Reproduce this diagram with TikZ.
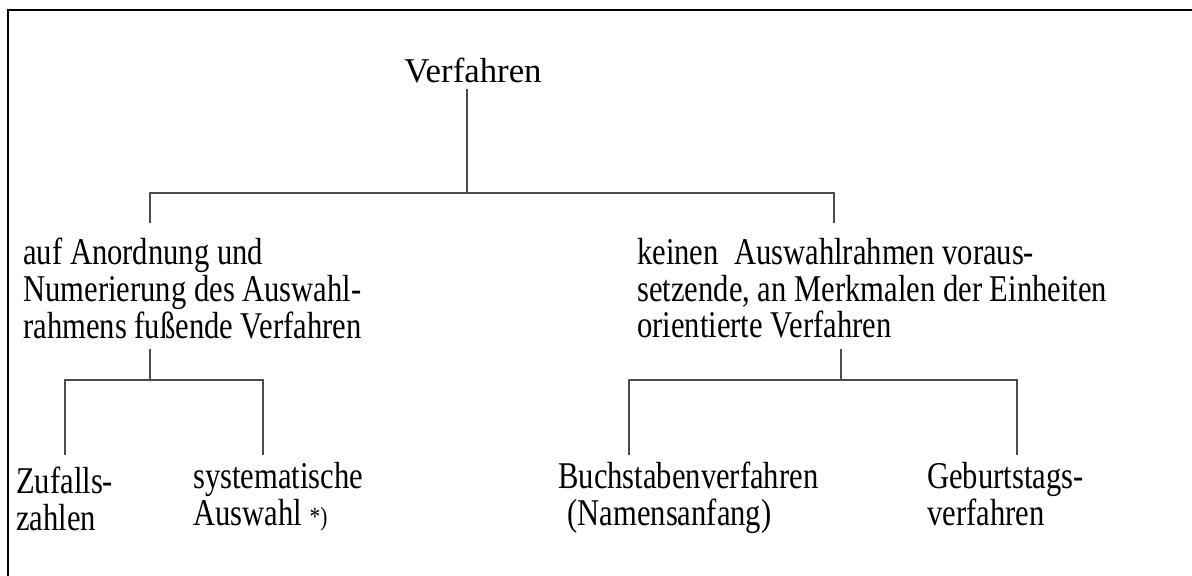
\documentclass[tikz,border=0pt]{standalone}
\usepackage{fontspec}
\setmainfont{Liberation Serif}
\usepackage{tikz}
\usetikzlibrary{
    positioning,
    calc
}
\tikzset{
  txt/.style   = {inner sep=0pt, align=left, anchor=north west,
                  xscale=0.81, transform shape,
                  font=\fontsize{21.5pt}{20.8pt}\selectfont},
  conn/.style  = {draw=black!70, line width=0.6pt},
  frame/.style = {draw=black, line width=1.7pt}
}
\newcommand{\starnote}{{\fontsize{15pt}{15pt}\selectfont *)}}

\begin{document}
\begin{tikzpicture}[
    head/.style={inner sep=0pt, anchor=base,
                 font=\fontsize{19.8pt}{23pt}\selectfont}
  ]
    \useasboundingbox (0,0) rectangle (23.84,-11.52);
    \draw[frame] (0.16,-11.52) -- (0.16,-0.20) -- (23.84,-0.20);

    \node[head] (verf)   at (9.46,-1.66) {Verfahren};
    \node[txt]  (links)  at (0.46,-4.76) {auf Anordnung und\\Numerierung des Auswahl-\\rahmens fußende Verfahren};
    \node[txt]  (rechts) at (12.74,-4.76) {keinen\ \ Auswahlrahmen voraus-\\setzende, an Merkmalen der Einheiten\\orientierte Verfahren};
    \node[txt]  (zuf)    at (0.32,-9.34) {Zufalls-\\zahlen};
    \node[txt]  (sys)    at (3.86,-9.24) {systematische\\Auswahl \starnote};
    \node[txt]  (buch)   at (11.16,-9.24) {Buchstabenverfahren\\\hspace*{0.3em}(Namensanfang)};
    \node[txt]  (geb)    at (18.54,-9.24) {Geburtstags-\\verfahren};

    % bars of the tree
    \coordinate (j1)  at (9.34,-3.86);
    \coordinate (j1l) at (3.00,-3.86);
    \coordinate (j1r) at (16.68,-3.86);
    \coordinate (j2)  at (3.00,-7.60);
    \coordinate (j2l) at (1.30,-7.60);
    \coordinate (j2r) at (5.26,-7.60);
    \coordinate (j3)  at (16.82,-7.60);
    \coordinate (j3l) at (12.58,-7.60);
    \coordinate (j3r) at (20.34,-7.60);

    \draw[conn, shorten <=0.1cm] (verf.south -| j1) -- (j1);
    \draw[conn, shorten <=0.3cm, shorten >=0.3cm] (links.north -| j1l) -- (j1l) -- (j1r) -- (rechts.north -| j1r);
    \draw[conn, shorten <=0.2cm] (links.south -| j2) -- (j2);
    \draw[conn, shorten <=0.2cm] (rechts.south -| j3) -- (j3);
    \draw[conn, shorten <=0.24cm, shorten >=0.14cm] (zuf.north -| j2l) -- (j2l) -- (j2r) -- (sys.north -| j2r);
    \draw[conn, shorten <=0.14cm, shorten >=0.14cm] (buch.north -| j3l) -- (j3l) -- (j3r) -- (geb.north -| j3r);
  \end{tikzpicture}
\end{document}
